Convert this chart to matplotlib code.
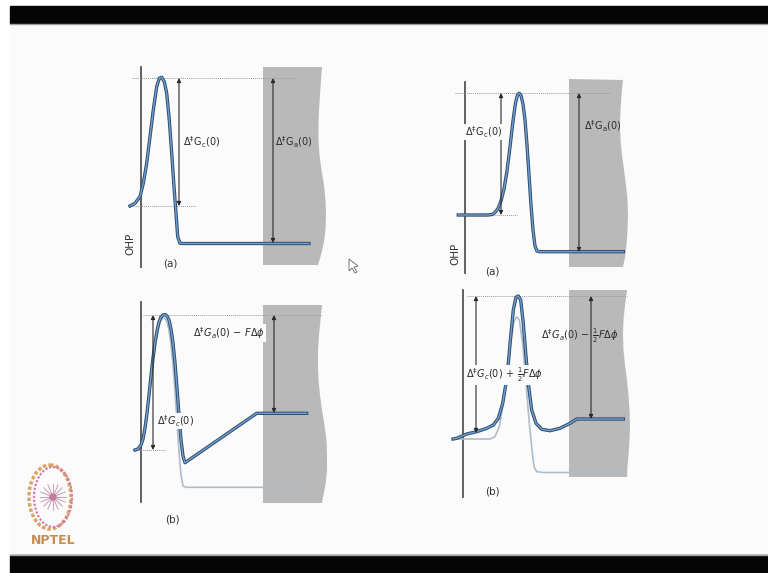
import matplotlib.pyplot as plt
import numpy as np
from matplotlib.patches import Polygon, Rectangle, Ellipse

plt.rcParams['mathtext.fontset'] = 'dejavusans'

# ---- data (image pixel units, y downwards) ----
# panel (a) left: free energy profile at zero overpotential
a1_x = [130, 135, 140, 143.3, 146.7, 150, 153.3, 156.7, 159.3, 161.7, 164.3, 166.7,
        169.3, 171.7, 174, 176, 177.7, 180, 183.3, 309]
a1_y = [206, 203.3, 196.7, 183.3, 163.3, 136.7, 110, 86.7, 78.3, 77.3, 81.7, 93.3,
        120, 153.3, 186.7, 213.3, 236.7, 243.3, 243.5, 243.5]
a1_shade_x = [263, 322, 321, 320, 319, 318.5, 318.5, 319.5, 321.5, 324, 325.5, 326,
              325.5, 324, 321.5, 318, 263]
a1_shade_y = [67, 67, 80, 95, 110, 125, 140, 155, 170, 185, 200, 215,
              230, 242, 253, 265, 265]

# panel (a) right
a2_x = [458.3, 488, 492, 495, 498, 501, 504, 507, 510, 513, 515.5, 517.5, 519.3, 521,
        523, 525, 527, 529, 531, 533, 535, 537, 540, 623.3]
a2_y = [215, 215, 214.5, 212.5, 208.5, 201, 189, 171, 147, 121, 103, 95, 93.3, 95.5,
        104, 120, 145, 175, 205, 230, 246, 251, 251.7, 251.7]
a2_shade_x = [569, 623, 621.5, 620.5, 620, 620.5, 622, 624, 626, 627.5, 628, 627.5,
              626.5, 625, 623, 569]
a2_shade_y = [79, 80, 95, 110, 125, 140, 155, 170, 185, 200, 215, 230,
              245, 257, 267, 267]

# panel (b) left: original (light) and shifted (dark) profiles
b1_old_x = [135, 138, 141, 143, 145, 147, 149, 151, 153, 155, 157, 159, 161, 163, 165,
            167, 169, 171, 173, 175, 177, 179, 181, 183, 186, 309.3]
b1_old_y = [450, 449, 446, 440, 430, 415, 398, 380, 363, 348, 336, 326, 320, 318, 318.5,
            322, 330, 345, 365, 392, 422, 452, 475, 486, 487.3, 487.3]
b1_new_x = [135, 138, 141, 143, 145, 147, 149, 151, 153, 155, 157, 159, 161, 163, 165,
            167, 169, 171, 173, 175, 177, 179, 181, 183, 185, 256.7, 306.7]
b1_new_y = [450, 449, 445, 439, 428, 413, 395, 376, 358, 343, 331, 322, 317, 315, 314.5,
            316, 320, 329, 343, 363, 388, 415, 440, 456, 462.7, 413.3, 413.3]
b1_shade_x = [263, 322, 320.5, 319, 318, 318, 318.5, 320, 322, 324.5, 326.5, 327, 327,
              325.5, 323, 322, 263]
b1_shade_y = [305, 305, 320, 335, 350, 365, 380, 395, 410, 425, 440, 455, 470,
              485, 497, 503, 503]

# panel (b) right
b2_old_x = [453, 490, 495, 499.3, 503.3, 507.3, 511, 514, 516.7, 519.3, 522.7, 526,
            529.3, 532, 534, 536.7, 543.3, 623.3]
b2_old_y = [439, 439, 436.7, 426.7, 403.3, 370, 340, 321.7, 316.7, 320, 343.3, 383.3,
            423.3, 450, 466.7, 471.7, 472.5, 472.5]
b2_new_x = [453, 456.7, 466.7, 476.7, 486.7, 493.3, 498.3, 502.7, 506, 508.3, 511,
            513.3, 516, 518.3, 520.7, 523.3, 526, 528.7, 531.7, 536, 541.7, 550, 560,
            570, 576.7, 623.3]
b2_new_y = [439, 438.3, 434, 431.7, 428.3, 425, 418.3, 403.3, 383.3, 363.3, 333.3,
            310, 297.3, 296, 300, 323.3, 356.7, 386.7, 410, 423.3, 429.3, 430.7, 428.3,
            423.3, 419, 419]
b2_shade_x = [569, 627, 625, 623.5, 623, 623.5, 625, 627, 628.5, 629.5, 630, 629.5,
              628.5, 627.5, 627, 569]
b2_shade_y = [290, 290, 305, 320, 335, 350, 365, 380, 395, 410, 425, 440,
              455, 467, 477, 477]

DARK = '#2f4d6e'
BLUE = '#6f9fd0'
LIGHT = '#aebccb'
SHADE = '#b9b9b9'
INK = '#2a2a2a'
BG = '#fbfbfb'


def profile(ax, x, y):
    ax.plot(x, y, color=DARK, lw=2.4, solid_joinstyle='round', zorder=4)
    ax.plot(x, y, color=BLUE, lw=1.0, solid_joinstyle='round', zorder=5)


def arrow(ax, x, y1, y2):
    ax.annotate('', xy=(x, y1), xytext=(x, y2),
                arrowprops=dict(arrowstyle='<|-|>', color=INK, lw=0.8,
                                mutation_scale=6, shrinkA=0, shrinkB=0), zorder=6)


def dotted(ax, x1, x2, y):
    ax.plot([x1, x2], [y, y], color='#9a9a9a', lw=0.7, ls=(0, (1, 1)), zorder=3)


def label(ax, x, y, s, bg=None):
    box = None
    if bg:
        box = dict(facecolor=bg, edgecolor='none', pad=0.5)
    ax.text(x, y, s, fontsize=7, color=INK, va='center', ha='left',
            zorder=7, bbox=box)


fig = plt.figure(figsize=(7.68, 5.73), dpi=100)
fig.patch.set_facecolor('#ffffff')
ax = fig.add_axes([0, 0, 1, 1])
ax.set_xlim(0, 768)
ax.set_ylim(573, 0)
ax.axis('off')

# slide frame
ax.add_patch(Rectangle((10, 23), 758, 532, color=BG, zorder=0))
ax.add_patch(Rectangle((10, 6), 758, 17, color='#050505', zorder=1))
ax.plot([10, 768], [24, 24], color='#a0a0a0', lw=1.0, zorder=1)
ax.add_patch(Rectangle((10, 555), 758, 18, color='#050505', zorder=1))
ax.plot([10, 768], [554.5, 554.5], color='#a0a0a0', lw=1.0, zorder=1)

# shaded solution regions
for sx, sy in [(a1_shade_x, a1_shade_y), (a2_shade_x, a2_shade_y),
               (b1_shade_x, b1_shade_y), (b2_shade_x, b2_shade_y)]:
    ax.add_patch(Polygon(np.column_stack([sx, sy]), closed=True,
                         facecolor=SHADE, edgecolor='none', zorder=2))

# OHP lines
for x, y1, y2 in [(141, 67, 267), (465, 82, 273), (141, 302, 502), (463, 290, 497)]:
    ax.plot([x, x], [y1, y2], color='#555555', lw=1.3, zorder=3)

# --- panel (a) left ---
dotted(ax, 132, 295, 78)
dotted(ax, 132, 196, 206)
profile(ax, a1_x, a1_y)
arrow(ax, 179, 78, 206)
arrow(ax, 273, 78, 243)
label(ax, 183, 142, r'$\Delta^{\ddagger}\mathrm{G_c(0)}$')
label(ax, 275, 142, r'$\Delta^{\ddagger}\mathrm{G_a(0)}$')
ax.text(130, 244, 'OHP', fontsize=7.5, color='#333333', rotation=90,
        va='center', ha='center')
ax.text(170, 264, '(a)', fontsize=7.5, color='#333333', va='center', ha='center')

# --- panel (a) right ---
dotted(ax, 455, 610, 93)
dotted(ax, 458, 517, 215)
profile(ax, a2_x, a2_y)
arrow(ax, 501, 93, 215)
arrow(ax, 579, 93, 252)
label(ax, 465, 132, r'$\Delta^{\ddagger}\mathrm{G_c(0)}$', bg=BG)
label(ax, 584, 126, r'$\Delta^{\ddagger}\mathrm{G_a(0)}$')
ax.text(455, 254, 'OHP', fontsize=7.5, color='#333333', rotation=90,
        va='center', ha='center')
ax.text(492, 272, '(a)', fontsize=7.5, color='#333333', va='center', ha='center')

# --- panel (b) left ---
dotted(ax, 143, 322, 315)
dotted(ax, 135, 165, 450)
ax.plot(b1_old_x, b1_old_y, color=LIGHT, lw=1.2, zorder=4)
profile(ax, b1_new_x, b1_new_y)
arrow(ax, 153, 315, 450)
arrow(ax, 274, 315, 413)
label(ax, 157, 421, r'$\Delta^{\ddagger}G_c(0)$', bg=BG)
label(ax, 193, 333, r'$\Delta^{\ddagger}G_a(0)\,-\,F\Delta\phi$', bg=BG)
ax.text(172, 519, '(b)', fontsize=7.5, color='#333333', va='center', ha='center')

# --- panel (b) right ---
dotted(ax, 467, 627, 296)
ax.plot(b2_old_x, b2_old_y, color=LIGHT, lw=1.2, zorder=4)
profile(ax, b2_new_x, b2_new_y)
arrow(ax, 476, 296, 433)
arrow(ax, 591, 296, 419)
label(ax, 466, 375, r'$\Delta^{\ddagger}G_c(0)\,+\,\frac{1}{2}F\Delta\phi$', bg=BG)
label(ax, 541, 336, r'$\Delta^{\ddagger}G_a(0)\,-\,\frac{1}{2}F\Delta\phi$')
ax.text(492, 492, '(b)', fontsize=7.5, color='#333333', va='center', ha='center')

# mouse pointer left on the slide
ax.add_patch(Polygon([[349, 259], [349, 271], [352, 268], [355, 273], [357, 272],
                      [354, 267], [358, 266]], closed=True, facecolor='white',
                     edgecolor='#777777', lw=0.7, zorder=6))

# NPTEL logo
ax.add_patch(Ellipse((50, 497), 42, 64, fill=False, edgecolor='#d9a466', lw=2.5,
                     ls=(0, (1, 0.6)), zorder=3))
ax.add_patch(Ellipse((53, 497), 38, 60, fill=False, edgecolor='#d57aa6', lw=1.6,
                     ls=(0, (1, 0.8)), zorder=3))
for ang in np.arange(0, 180, 22.5):
    t = np.radians(ang)
    ax.plot([53 - 13 * np.cos(t), 53 + 13 * np.cos(t)],
            [497 - 13 * np.sin(t), 497 + 13 * np.sin(t)],
            color='#c9a6b8', lw=0.8, zorder=3)
ax.add_patch(Ellipse((53, 497), 6, 6, color='#c77aa0', zorder=4))
ax.text(53, 540, 'NPTEL', fontsize=9, fontweight='bold', color='#c98b4e',
        ha='center', va='center')

fig.savefig('out.png', dpi=100, facecolor=fig.get_facecolor())
